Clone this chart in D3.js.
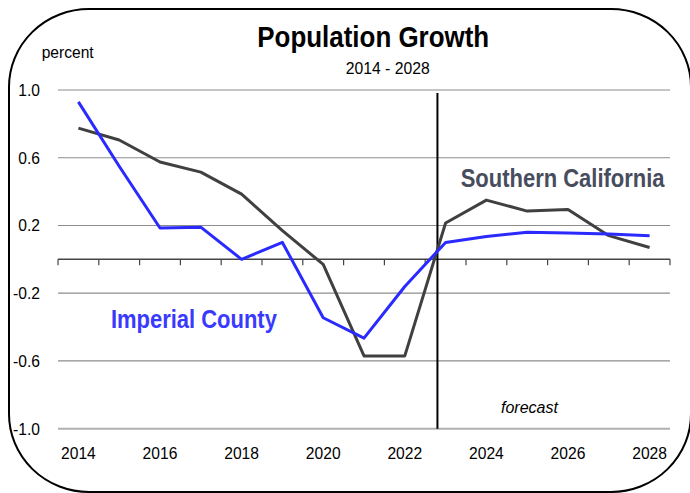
<!DOCTYPE html>
<html>
<head>
<meta charset="utf-8">
<script src="https://cdn.jsdelivr.net/npm/d3@7"></script>
<style>
  html, body { margin: 0; padding: 0; background: #fff; }
  svg { display: block; }
  text { font-family: "Liberation Sans Narrow", "Arial Narrow", "Liberation Sans", Arial, sans-serif; }
</style>
</head>
<body>
<svg id="chart" width="690" height="493"></svg>
<script>
const years = ["2014","2015","2016","2017","2018","2019","2020","2021","2022","2023","2024","2025","2026","2027","2028"];
const imperialCounty = [0.93, 0.55, 0.185, 0.19, 0.0, 0.10, -0.345, -0.465, -0.16, 0.10, 0.135, 0.16, 0.155, 0.15, 0.14];
const southernCalifornia = [0.775, 0.705, 0.575, 0.515, 0.385, 0.17, -0.03, -0.57, -0.57, 0.215, 0.35, 0.285, 0.295, 0.14, 0.07];
const yTickValues = [1.0, 0.6, 0.2, -0.2, -0.6, -1.0];
const yTickLabels = ["1.0", "0.6", "0.2", "-0.2", "-0.6", "-1.0"];
const xLabelYears = ["2014","2016","2018","2020","2022","2024","2026","2028"];
const forecastStart = 8.8; // position (in category index) of forecast divider, between 2022 and 2023

const svg = d3.select("#chart");
const plot = { left: 58, right: 670, top: 90, bottom: 428.7 };
const narrow = 0.92;

// rounded frame
svg.append("rect")
  .attr("x", 9).attr("y", 9)
  .attr("width", 682).attr("height", 483)
  .attr("rx", 80).attr("ry", 78)
  .attr("fill", "none").attr("stroke", "#000").attr("stroke-width", 2);

const x = d3.scaleBand().domain(years).range([plot.left, plot.right]).padding(0);
const bw = x.bandwidth();
const cx = d => x(d) + bw / 2;
const y = d3.scaleLinear().domain([-1, 1]).range([plot.bottom, plot.top]);

// gridlines
svg.append("g").selectAll("line").data(yTickValues).join("line")
  .attr("x1", plot.left).attr("x2", plot.right)
  .attr("y1", d => y(d)).attr("y2", d => y(d))
  .attr("stroke", d => d === -1.0 ? "#b0b0b0" : "#8c8c8c")
  .attr("stroke-width", d => d === -1.0 ? 2 : 1.2);

// y labels
svg.append("g").selectAll("text").data(yTickValues).join("text")
  .attr("transform", d => `translate(40,${y(d)}) scale(${narrow},1)`)
  .attr("dy", "0.35em")
  .attr("text-anchor", "end")
  .attr("font-size", 17)
  .attr("fill", "#000")
  .text((d, i) => yTickLabels[i]);

// zero axis with ticks at category boundaries
const gz = svg.append("g").attr("transform", `translate(0,${y(0)})`);
gz.append("line").attr("x1", plot.left).attr("x2", plot.right)
  .attr("y1", 0).attr("y2", 0).attr("stroke", "#444").attr("stroke-width", 1.5);
const boundaries = years.map(d => x(d)).concat([plot.right]);
gz.selectAll("line.tk").data(boundaries).join("line")
  .attr("class", "tk")
  .attr("x1", d => d).attr("x2", d => d)
  .attr("y1", 0).attr("y2", 6)
  .attr("stroke", "#444").attr("stroke-width", 1.2);

// x labels
svg.append("g").selectAll("text").data(xLabelYears).join("text")
  .attr("transform", d => `translate(${cx(d)},459) scale(${narrow},1)`)
  .attr("text-anchor", "middle")
  .attr("font-size", 17)
  .attr("fill", "#000")
  .text(d => d);

// forecast divider
const xf = plot.left + bw * (forecastStart + 0.5);
svg.append("line")
  .attr("x1", xf).attr("x2", xf)
  .attr("y1", 93).attr("y2", plot.bottom)
  .attr("stroke", "#000").attr("stroke-width", 2);

// lines
const line = d3.line().x((d, i) => cx(years[i])).y(d => y(d));
svg.append("path").datum(southernCalifornia)
  .attr("d", line).attr("fill", "none")
  .attr("stroke", "#404040").attr("stroke-width", 3).attr("stroke-linejoin", "round");
svg.append("path").datum(imperialCounty)
  .attr("d", line).attr("fill", "none")
  .attr("stroke", "#2a2aff").attr("stroke-width", 3).attr("stroke-linejoin", "round");

// text placed at left x, baseline y, horizontally scaled to a target width
function fitText(left, base, width, str, attrs) {
  const t = svg.append("text").text(str);
  Object.entries(attrs).forEach(([k, v]) => t.attr(k, v));
  const natural = t.node().getComputedTextLength();
  const s = Math.min(1, width / natural);
  t.attr("transform", `translate(${left},${base}) scale(${s},1)`);
  return t;
}

// titles
fitText(257.3, 46.5, 232, "Population Growth", { "font-size": 30, "font-weight": "bold", fill: "#000" });
fitText(345.7, 74, 84, "2014 - 2028", { "font-size": 16, fill: "#000" });
fitText(41.7, 58, 52, "percent", { "font-size": 17, fill: "#000" });

// series labels
fitText(460.7, 186.5, 204, "Southern California", { "font-size": 26, "font-weight": "bold", fill: "#474d5c" });
fitText(111, 328, 166, "Imperial County", { "font-size": 26, "font-weight": "bold", fill: "#3a3aff" });

// forecast label
fitText(501, 412.5, 57, "forecast", { "font-size": 17, "font-style": "italic", fill: "#000" });
</script>
</body>
</html>
